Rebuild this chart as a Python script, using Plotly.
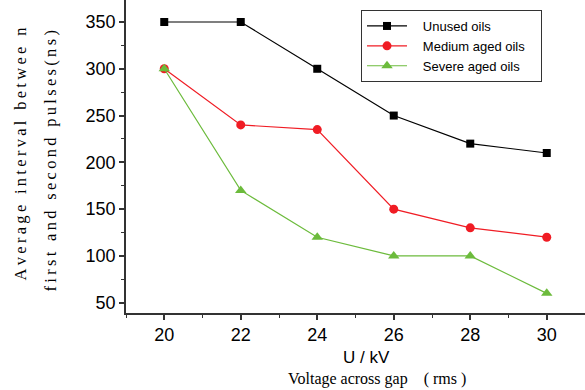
import plotly.graph_objects as go

voltage = [20, 22, 24, 26, 28, 30]
unused = [350, 350, 300, 250, 220, 210]
medium = [300, 240, 235, 150, 130, 120]
severe = [300, 170, 120, 100, 100, 60]
names = ["Unused oils", "Medium aged oils", "Severe aged oils"]

lead = "\u00a0\u00a0\u00a0"
pad = "\u00a0\u00a0\u00a0"

fig = go.Figure()
fig.add_trace(go.Scatter(x=voltage, y=unused, name=lead + names[0] + pad, mode="lines+markers",
                         line=dict(color="black", width=1.2),
                         marker=dict(symbol="square", size=8, color="black")))
fig.add_trace(go.Scatter(x=voltage, y=medium, name=lead + names[1] + pad, mode="lines+markers",
                         line=dict(color="#f01c24", width=1.2),
                         marker=dict(symbol="circle", size=9, color="#f01c24")))
fig.add_trace(go.Scatter(x=voltage, y=severe, name=lead + names[2] + pad, mode="lines+markers",
                         line=dict(color="#6cbb3c", width=1.2),
                         marker=dict(symbol="triangle-up", size=10, color="#6cbb3c")))

def spaced(s):
    return "\u2009".join(list(s))

serif = "Liberation Serif, Times New Roman, serif"
sans = "Liberation Sans, Arial, sans-serif"

fig.update_layout(
    width=585, height=390,
    margin=dict(l=126, r=0, t=0, b=77),
    paper_bgcolor="white", plot_bgcolor="white",
    showlegend=True,
    legend=dict(x=0.512, y=0.968, xanchor="left", yanchor="top",
                bgcolor="white", bordercolor="#333", borderwidth=1,
                font=dict(family=sans, size=13, color="black"),
                tracegroupgap=0, itemwidth=40),
    xaxis=dict(range=[19, 31], tickmode="linear", tick0=20, dtick=2,
               showline=True, linecolor="#333", linewidth=1.5,
               ticks="outside", ticklen=5, tickwidth=1.5, tickcolor="#333",
               minor=dict(dtick=1, tick0=19, ticks="outside", ticklen=3, tickcolor="#333", tickwidth=1),
               showgrid=False, zeroline=False,
               tickfont=dict(family=sans, size=18, color="black")),
    yaxis=dict(range=[39, 373.5], tickmode="linear", tick0=50, dtick=50,
               showline=True, linecolor="#333", linewidth=1.5,
               ticks="outside", ticklen=5, tickwidth=1.5, tickcolor="#333",
               minor=dict(dtick=25, tick0=50, ticks="outside", ticklen=3, tickcolor="#333", tickwidth=1),
               showgrid=False, zeroline=False,
               tickfont=dict(family=sans, size=18, color="black")),
)

fig.add_annotation(text="U / kV", xref="paper", yref="paper", x=0.5, y=0,
                   xshift=11, yshift=-44, showarrow=False, xanchor="center", yanchor="middle",
                   font=dict(family=sans, size=17, color="black"))
fig.add_annotation(text="Voltage across gap\u3000( rms )", xref="paper", yref="paper", x=0.5, y=0,
                   xshift=21, yshift=-66, showarrow=False, xanchor="center", yanchor="middle",
                   font=dict(family=serif, size=16, color="black"))
fig.add_annotation(text=spaced("Average interval betwee n"), xref="paper", yref="paper", x=0, y=0.5,
                   xshift=-106, yshift=2, textangle=-90, showarrow=False,
                   xanchor="center", yanchor="middle",
                   font=dict(family=serif, size=16.5, color="black"))
fig.add_annotation(text=spaced("first and second pulses(ns)"), xref="paper", yref="paper", x=0, y=0.5,
                   xshift=-76, yshift=-5, textangle=-90, showarrow=False,
                   xanchor="center", yanchor="middle",
                   font=dict(family=serif, size=16.5, color="black"))

fig.write_html("out.html")
